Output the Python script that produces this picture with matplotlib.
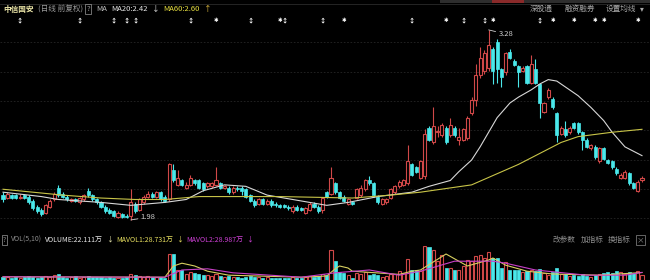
import numpy as np
import matplotlib
matplotlib.use('Agg')
import matplotlib.pyplot as plt
from matplotlib.patches import Rectangle
from matplotlib.transforms import blended_transform_factory

plt.rcParams['font.family'] = ['Noto Sans CJK SC', 'DejaVu Sans']

# daily candles (price, 前复权)
opens = [2.15, 2.13, 2.15, 2.15, 2.13, 2.15, 2.14, 2.11, 2.07, 2.05,
         2.03, 2.07, 2.12, 2.20, 2.16, 2.14, 2.11, 2.12, 2.10, 2.12,
         2.18, 2.15, 2.12, 2.10, 2.07, 2.05, 2.04, 2.00, 2.02, 2.01,
         2.01, 2.09, 2.05, 2.10, 2.14, 2.16, 2.14, 2.17, 2.14, 2.12,
         2.32, 2.22, 2.25, 2.20, 2.22, 2.25, 2.25, 2.23, 2.21, 2.21,
         2.22, 2.23, 2.20, 2.20, 2.17, 2.20, 2.20, 2.19, 2.15, 2.11,
         2.09, 2.12, 2.09, 2.11, 2.09, 2.08, 2.08, 2.07, 2.04, 2.07,
         2.06, 2.03, 2.05, 2.09, 2.07, 2.05, 2.17, 2.16, 2.23, 2.17,
         2.14, 2.09, 2.10, 2.13, 2.15, 2.19, 2.25, 2.23, 2.14, 2.09,
         2.10, 2.13, 2.17, 2.21, 2.22, 2.23, 2.36, 2.34, 2.27, 2.28,
         2.61, 2.51, 2.58, 2.56, 2.61, 2.56, 2.61, 2.53, 2.53, 2.54,
         2.71, 2.80, 2.97, 3.00, 3.02, 3.15, 3.20, 3.01, 2.99, 3.13,
         3.07, 3.03, 3.00, 3.03, 2.92, 3.01, 2.91, 2.72, 2.82, 2.81,
         2.71, 2.57, 2.60, 2.58, 2.64, 2.64, 2.58, 2.53, 2.47, 2.48,
         2.38, 2.47, 2.39, 2.38, 2.33, 2.27, 2.27, 2.30, 2.23, 2.18, 2.25]
closes = [2.12, 2.16, 2.13, 2.13, 2.14, 2.13, 2.10, 2.06, 2.04, 2.02,
          2.08, 2.11, 2.16, 2.15, 2.14, 2.12, 2.12, 2.11, 2.13, 2.15,
          2.15, 2.12, 2.10, 2.07, 2.04, 2.03, 2.01, 2.03, 2.00, 2.00,
          2.10, 2.04, 2.12, 2.14, 2.16, 2.14, 2.17, 2.12, 2.11, 2.36,
          2.25, 2.27, 2.22, 2.22, 2.27, 2.23, 2.20, 2.19, 2.23, 2.23,
          2.25, 2.20, 2.21, 2.17, 2.20, 2.19, 2.18, 2.14, 2.11, 2.08,
          2.12, 2.09, 2.11, 2.08, 2.08, 2.07, 2.07, 2.06, 2.07, 2.05,
          2.05, 2.06, 2.09, 2.07, 2.04, 2.13, 2.14, 2.27, 2.17, 2.13,
          2.11, 2.12, 2.09, 2.19, 2.20, 2.25, 2.23, 2.15, 2.10, 2.12,
          2.12, 2.19, 2.21, 2.24, 2.25, 2.38, 2.29, 2.31, 2.38, 2.57,
          2.53, 2.62, 2.59, 2.63, 2.51, 2.63, 2.56, 2.55, 2.60, 2.68,
          2.80, 2.97, 3.09, 3.12, 3.18, 3.00, 3.01, 2.96, 3.12, 3.09,
          3.04, 2.99, 3.02, 2.92, 3.05, 2.92, 2.78, 2.78, 2.87, 2.75,
          2.56, 2.61, 2.56, 2.61, 2.61, 2.58, 2.53, 2.48, 2.49, 2.41,
          2.47, 2.40, 2.37, 2.34, 2.30, 2.29, 2.31, 2.23, 2.20, 2.24, 2.27]
highs = [2.17, 2.17, 2.16, 2.16, 2.16, 2.16, 2.15, 2.12, 2.08, 2.06,
         2.09, 2.12, 2.17, 2.22, 2.17, 2.15, 2.13, 2.13, 2.14, 2.16,
         2.20, 2.16, 2.13, 2.11, 2.08, 2.06, 2.05, 2.04, 2.03, 2.02,
         2.19, 2.10, 2.13, 2.15, 2.18, 2.17, 2.18, 2.18, 2.15, 2.37,
         2.36, 2.32, 2.26, 2.24, 2.29, 2.26, 2.26, 2.24, 2.24, 2.24,
         2.34, 2.24, 2.22, 2.21, 2.21, 2.21, 2.21, 2.20, 2.16, 2.12,
         2.13, 2.13, 2.12, 2.12, 2.10, 2.09, 2.09, 2.08, 2.08, 2.08,
         2.07, 2.07, 2.10, 2.10, 2.08, 2.14, 2.18, 2.34, 2.24, 2.18,
         2.15, 2.13, 2.11, 2.20, 2.22, 2.26, 2.28, 2.24, 2.15, 2.13,
         2.13, 2.20, 2.22, 2.25, 2.26, 2.49, 2.37, 2.35, 2.39, 2.60,
         2.62, 2.75, 2.62, 2.64, 2.62, 2.68, 2.62, 2.61, 2.61, 2.69,
         2.82, 3.05, 3.16, 3.14, 3.28, 3.16, 3.22, 3.02, 3.13, 3.15,
         3.08, 3.04, 3.03, 3.04, 3.11, 3.08, 2.92, 2.79, 2.88, 2.82,
         2.72, 2.62, 2.66, 2.62, 2.65, 2.65, 2.59, 2.54, 2.50, 2.49,
         2.48, 2.48, 2.40, 2.39, 2.34, 2.30, 2.32, 2.31, 2.24, 2.25, 2.28]
lows = [2.10, 2.12, 2.12, 2.12, 2.12, 2.12, 2.09, 2.05, 2.03, 2.01,
        2.02, 2.06, 2.11, 2.14, 2.13, 2.11, 2.10, 2.10, 2.09, 2.11,
        2.14, 2.11, 2.09, 2.06, 2.03, 2.02, 2.00, 1.99, 1.99, 1.99,
        1.98, 2.03, 2.04, 2.09, 2.13, 2.13, 2.13, 2.11, 2.10, 2.11,
        2.24, 2.21, 2.21, 2.19, 2.21, 2.22, 2.19, 2.18, 2.20, 2.20,
        2.21, 2.19, 2.19, 2.16, 2.16, 2.18, 2.15, 2.13, 2.10, 2.07,
        2.08, 2.08, 2.08, 2.07, 2.07, 2.06, 2.06, 2.05, 2.03, 2.04,
        2.04, 2.02, 2.04, 2.06, 2.03, 2.03, 2.13, 2.15, 2.16, 2.12,
        2.10, 2.08, 2.08, 2.12, 2.14, 2.18, 2.22, 2.14, 2.09, 2.08,
        2.09, 2.12, 2.16, 2.20, 2.21, 2.22, 2.28, 2.30, 2.26, 2.26,
        2.52, 2.50, 2.55, 2.55, 2.50, 2.55, 2.55, 2.49, 2.52, 2.53,
        2.70, 2.76, 2.95, 2.98, 3.00, 2.91, 2.92, 2.89, 2.97, 3.08,
        3.03, 2.89, 2.99, 2.91, 2.91, 2.91, 2.68, 2.71, 2.81, 2.74,
        2.51, 2.56, 2.55, 2.57, 2.60, 2.57, 2.46, 2.47, 2.46, 2.40,
        2.37, 2.39, 2.36, 2.33, 2.29, 2.26, 2.26, 2.22, 2.19, 2.17, 2.24]
# volume in 万手
volumes = [18, 17, 16, 18, 15, 17, 19, 18, 16, 17,
           20, 18, 22, 24, 18, 16, 17, 19, 16, 17,
           20, 18, 17, 18, 16, 17, 15, 16, 15, 17,
           24, 22, 20, 18, 19, 17, 18, 17, 16, 75,
           75, 35, 35, 24, 30, 28, 24, 22, 22, 20,
           24, 20, 18, 19, 18, 17, 16, 18, 20, 18,
           17, 16, 17, 16, 15, 15, 16, 15, 17, 15,
           15, 18, 20, 17, 19, 26, 22, 85, 57, 30,
           28, 22, 15, 28, 24, 30, 22, 26, 22, 18,
           20, 24, 26, 32, 28, 62, 36, 35, 33, 95,
           93, 85, 57, 72, 40, 41, 35, 35, 45, 60,
           57, 70, 72, 65, 80, 65, 65, 40, 55, 35,
           35, 35, 30, 33, 36, 33, 38, 28, 22, 30,
           40, 25, 24, 20, 22, 21, 25, 20, 18, 22,
           24, 28, 30, 27, 32, 31, 26, 30, 28, 32, 22]

# moving average lines, read at sample days
ma20_day = [0, 9, 13, 23, 30, 38, 43, 47, 52, 57, 62, 70, 76, 81, 88, 96,
            100, 105, 107, 110, 112, 114, 116, 119, 121, 124, 126, 128, 130,
            133, 135, 138, 141, 143, 146, 150]
ma20_val = [2.17, 2.14, 2.12, 2.10, 2.08, 2.10, 2.12, 2.18, 2.22, 2.21, 2.15,
            2.11, 2.08, 2.10, 2.14, 2.17, 2.21, 2.25, 2.31, 2.39, 2.48, 2.58,
            2.68, 2.78, 2.82, 2.87, 2.91, 2.94, 2.93, 2.87, 2.83, 2.75, 2.66,
            2.58, 2.48, 2.42]
ma60_day = [0, 14, 23, 31, 38, 46, 65, 82, 91, 98, 110, 121, 131, 135, 143, 150]
ma60_val = [2.19, 2.15, 2.13, 2.12, 2.12, 2.14, 2.14, 2.13, 2.15, 2.17, 2.22,
            2.36, 2.51, 2.55, 2.58, 2.60]
mavol1_day = [0, 38, 40, 42, 45, 48, 53, 70, 76, 78, 79, 81, 82, 93, 96, 98,
              104, 107, 109, 114, 115, 118, 123, 129, 140, 150]
mavol1_val = [18, 17, 45, 52, 45, 32, 22, 17, 20, 38, 45, 40, 32, 24, 32, 35,
              75, 57, 45, 60, 65, 47, 32, 25, 22, 28.7]
mavol2_day = [0, 38, 42, 48, 54, 70, 78, 86, 93, 98, 106, 115, 118, 125, 137, 146, 150]
mavol2_val = [18, 17, 35, 38, 28, 17, 28, 35, 22, 32, 57, 57, 52, 35, 22, 22, 29.0]

# info markers above the candles
mark_arrow = [4, 18, 26, 29, 31, 44, 58, 66, 75, 96, 108, 113, 126]
mark_star = [50, 65, 80, 104, 115, 129, 134, 139, 141, 149]

UP = '#d04848'
DOWN = '#4ae8ea'
W, H = 650, 280


def fx(px):
    return px / W


def fy(py):
    return 1 - py / H


fig = plt.figure(figsize=(6.5, 2.8), dpi=100, facecolor='black')
renderer = fig.canvas.get_renderer()


def text_row(items, x0, ypx, fs, gap=3):
    # lay out text pieces left to right without overlap
    xp = x0
    for s, col, extra in items:
        t = fig.text(fx(xp), fy(ypx), s, color=col, fontsize=fs, va='center', **extra)
        bb = t.get_window_extent(renderer)
        xp = bb.x1 + gap + (2 if 'bbox' in extra else 0)


ax = fig.add_axes([0, fy(228), 1, 200 / H])
axv = fig.add_axes([0, 0, 1, 34 / H])
for a in (ax, axv):
    a.set_axis_off()
    a.set_xlim(-0.704, 151.88)
ax.set_ylim(1.925, 3.293)
axv.set_ylim(10, 95)

# faint grid
for gy in [42, 72, 101, 130, 160, 189, 218]:
    f = (228 - gy) / 200
    ax.plot([0, 1], [f, f], transform=ax.transAxes, color='#262626',
            lw=0.6, ls=(0, (2, 2)), zorder=0)

n = len(closes)
o = np.array(opens)
c = np.array(closes)
hi = np.array(highs)
lo = np.array(lows)
v = np.array(volumes)
bw = 0.72

for i in range(n):
    top = max(o[i], c[i])
    bot = min(o[i], c[i])
    if c[i] >= o[i]:
        ax.vlines(i, top, hi[i], color=UP, lw=0.8, zorder=2)
        ax.vlines(i, lo[i], bot, color=UP, lw=0.8, zorder=2)
        ax.add_patch(Rectangle((i - bw / 2, bot), bw, top - bot, fc='black',
                               ec=UP, lw=0.8, zorder=3))
        axv.add_patch(Rectangle((i - bw / 2, 0), bw, v[i], fc='black',
                                ec=UP, lw=0.8, zorder=2))
    else:
        ax.vlines(i, lo[i], hi[i], color=DOWN, lw=0.8, zorder=2)
        ax.add_patch(Rectangle((i - bw / 2, bot), bw, top - bot, fc=DOWN,
                               ec=DOWN, lw=0.5, zorder=3))
        axv.add_patch(Rectangle((i - bw / 2, 0), bw, v[i], fc=DOWN,
                                ec=DOWN, lw=0.5, zorder=2))

ax.plot(ma20_day, ma20_val, color='#d8d8d8', lw=0.8, zorder=4)
ax.plot(ma60_day, ma60_val, color='#c8c448', lw=0.8, zorder=4)
axv.plot(mavol1_day, mavol1_val, color='#d8d060', lw=0.8, zorder=4)
axv.plot(mavol2_day, mavol2_val, color='#c840c8', lw=0.8, zorder=4)

# high / low labels
imax = int(np.argmax(hi))
imin = int(np.argmin(lo))
ax.annotate('%.2f' % hi[imax], xy=(imax, hi[imax]), xytext=(7, -3),
            textcoords='offset points', color='#d0d0d0', fontsize=5.5,
            va='center', arrowprops=dict(arrowstyle='-', color='#d0d0d0', lw=0.6,
                                         shrinkA=0, shrinkB=0))
ax.annotate('%.2f' % lo[imin], xy=(imin, lo[imin]), xytext=(7, 2),
            textcoords='offset points', color='#d0d0d0', fontsize=5.5,
            va='center', arrowprops=dict(arrowstyle='-', color='#d0d0d0', lw=0.6,
                                         shrinkA=0, shrinkB=0))

# marker row
tr = blended_transform_factory(ax.transData, fig.transFigure)
for d in mark_arrow:
    ax.text(d, fy(20), '↕', transform=tr, color='white', fontsize=4.5,
            fontweight='bold', ha='center', va='center', clip_on=False)
for d in mark_star:
    ax.text(d, fy(20), '✱', transform=tr, color='white', fontsize=4,
            ha='center', va='center', clip_on=False)

# top strip
fig.add_artist(plt.Line2D([0, 1], [fy(4), fy(4)], color='#2a2a2a', lw=0.6))
fig.add_artist(Rectangle((fx(440), fy(3)), fx(210), 3 / H, color='#2e2e2e', lw=0))
fig.add_artist(Rectangle((fx(492), fy(3)), fx(32), 3 / H, color='#8a2a2a', lw=0))

box = dict(bbox=dict(boxstyle='square,pad=0.15', fc='none', ec='#9a9a9a', lw=0.5))

# title row
fs = 5.5
text_row([('中信国安', '#ece6a8', dict(fontweight='bold')),
          ('(日线 前复权)', '#9a9a9a', {}),
          ('?', '#9a9a9a', box),
          ('MA', '#bdbdbd', {}),
          ('MA20:%.2f' % ma20_val[-1], '#e4e4e4', {}),
          ('↓', '#e4e4e4', {}),
          ('MA60:%.2f' % ma60_val[-1], '#e8e040', {}),
          ('↑', '#e8c040', {})], 3, 9, fs, gap=4)
for s, xp in [('深股通', 530), ('融资融券', 565), ('设置均线', 606), ('▾', 640)]:
    fig.text(fx(xp), fy(9), s, color='#a8a8a8', fontsize=fs, va='center')

# volume header
fv = 5
text_row([('?', '#8c8c8c', box),
          ('VOL(5,10)', '#8c8c8c', {}),
          ('VOLUME:22.111万', '#e8e8e8', {}),
          ('↓', '#e8e8b0', {}),
          ('MAVOL1:28.731万', '#e8e060', {}),
          ('↓', '#e8e060', {}),
          ('MAVOL2:28.987万', '#d040d8', {}),
          ('↓', '#d040d8', {})], 3, 240, fv, gap=3)
for s, xp in [('改参数', 553), ('加指标', 581), ('换指标', 608)]:
    fig.text(fx(xp), fy(240), s, color='#8c8c8c', fontsize=fs, va='center')
fig.text(fx(637), fy(240), '×', color='#8c8c8c', fontsize=fs, va='center',
         bbox=dict(boxstyle='square,pad=0.1', fc='none', ec='#8c8c8c', lw=0.5))

fig.savefig('out.png', dpi=100, facecolor='black')
